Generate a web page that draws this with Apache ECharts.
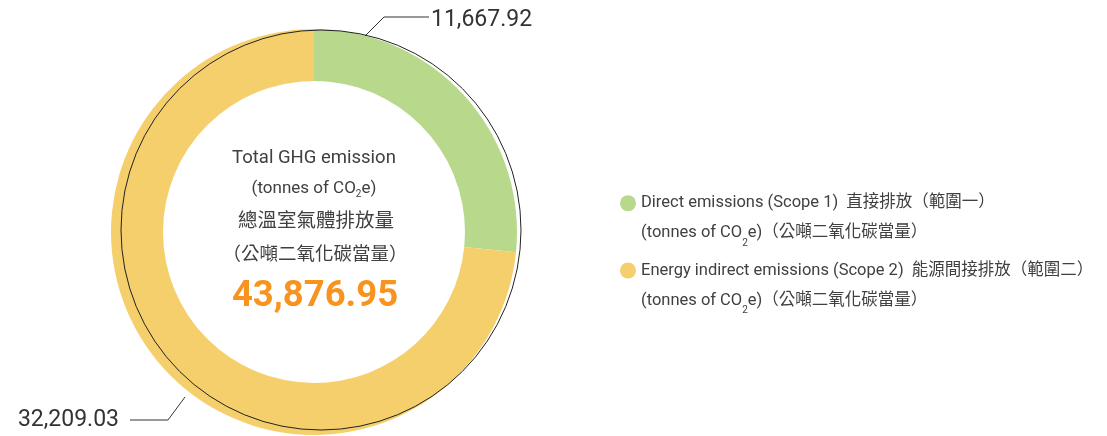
<!DOCTYPE html>
<html>
<head>
<meta charset="utf-8">
<script src="https://cdn.jsdelivr.net/npm/echarts@6/dist/echarts.min.js"></script>
<style>
  html, body { margin: 0; padding: 0; background: #fff; }
  #chart { width: 1107px; height: 436px; }
</style>
</head>
<body>
<div id="chart"></div>
<script>
var categories = ['Direct emissions (Scope 1)', 'Energy indirect emissions (Scope 2)'];
var categoriesZh = ['直接排放（範圍一）', '能源間接排放（範圍二）'];
var values = [11667.92, 32209.03];
var total = 43876.95;
var colors = ['#b8d98c', '#f5cf6c'];

var font = 'Roboto, "Noto Sans CJK TC", sans-serif';
var txt = '#404040';

function fmt(v) {
    return v.toLocaleString('en-US', { minimumFractionDigits: 2, maximumFractionDigits: 2 });
}

var chart = echarts.init(document.getElementById('chart'));
var data = [];
for (var i = 0; i < categories.length; i++) {
    data.push({ name: categories[i], value: values[i], itemStyle: { color: colors[i] } });
}

var option = {
    animation: false,
    legend: {
        orient: 'vertical',
        left: 615,
        top: 190,
        itemWidth: 16,
        itemHeight: 16,
        itemGap: 14,
        itemTextGap: 8,
        icon: 'circle',
        selectedMode: false,
        data: categories,
        formatter: function (name) {
            var k = categories.indexOf(name);
            return '{t|' + name + '  ' + categoriesZh[k] + '}\n{t|(tonnes of CO}{s|2}{t|e)（公噸二氧化碳當量）}';
        },
        textStyle: {
            fontFamily: font,
            color: txt,
            padding: [30, 0, 0, 0],
            rich: {
                t: { fontSize: 16.5, lineHeight: 30, fontFamily: font, color: txt },
                s: { fontSize: 10, lineHeight: 18, verticalAlign: 'bottom', fontFamily: font, color: txt }
            }
        }
    },
    graphic: [
        { type: 'text', x: 314, y: 158, style: { text: 'Total GHG emission', font: '18.5px ' + font, fill: txt, align: 'center', verticalAlign: 'middle' } },
        { type: 'text', x: 314, y: 189, style: {
            text: '{t|(tonnes of CO}{s|2}{t|e)}', align: 'center', verticalAlign: 'middle',
            rich: {
                t: { fontSize: 17, lineHeight: 20, fontFamily: font, fill: txt },
                s: { fontSize: 10, lineHeight: 12, verticalAlign: 'bottom', fontFamily: font, fill: txt }
            }
        } },
        { type: 'text', x: 316, y: 222, style: { text: '總溫室氣體排放量', font: '19.5px ' + font, fill: txt, align: 'center', verticalAlign: 'middle' } },
        { type: 'text', x: 315, y: 255, style: { text: '（公噸二氧化碳當量）', font: '18.5px ' + font, fill: txt, align: 'center', verticalAlign: 'middle' } },
        { type: 'text', x: 315, y: 297, style: { text: fmt(total), font: 'bold 36.5px ' + font, fill: '#f7931e', align: 'center', verticalAlign: 'middle' } }
    ],
    series: [
        {
            type: 'pie',
            center: [314, 232],
            radius: [151, 203],
            startAngle: 90,
            clockwise: true,
            silent: true,
            data: data,
            label: {
                show: true,
                formatter: function (p) { return fmt(p.value); },
                fontFamily: font,
                fontSize: 23,
                color: '#333'
            },
            labelLine: { show: true, lineStyle: { color: '#333', width: 1 } },
            labelLayout: function (p) {
                if (p.dataIndex === 0) {
                    return { x: 431, y: 20, align: 'left', verticalAlign: 'middle',
                        labelLinePoints: [[363, 38], [384, 17], [429, 17]] };
                }
                return { x: 119, y: 420, align: 'right', verticalAlign: 'middle',
                    labelLinePoints: [[185, 397], [168, 420], [130, 420]] };
            }
        },
        {
            type: 'pie',
            center: [321, 230],
            radius: [0, 200],
            silent: true,
            z: 3,
            label: { show: false },
            labelLine: { show: false },
            data: [{ name: 'outline', value: 1, itemStyle: { color: 'none', borderColor: '#222', borderWidth: 1 } }]
        }
    ]
};
chart.setOption(option);
window.onresize = chart.resize;
</script>
</body>
</html>
